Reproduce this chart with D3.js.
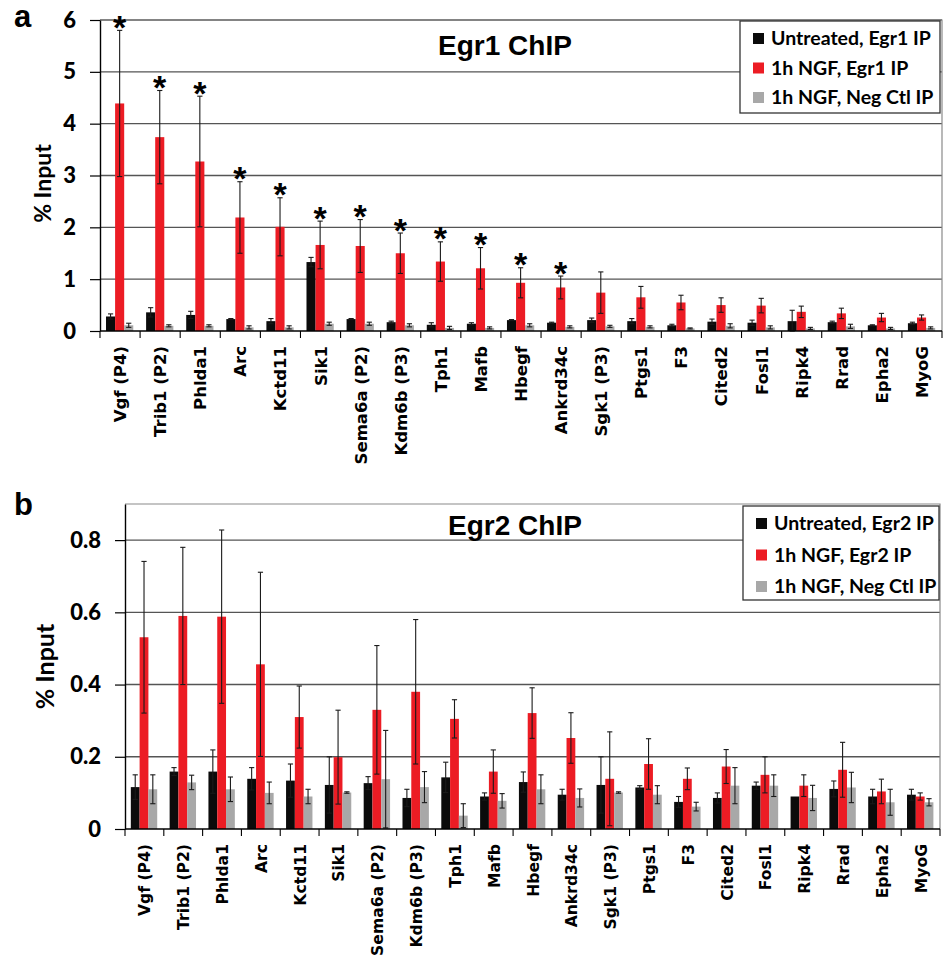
<!DOCTYPE html>
<html>
<head>
<meta charset="utf-8">
<script src="https://cdn.jsdelivr.net/npm/d3@7"></script>
<style>
  body { margin: 0; background: #fff; }
  svg { display: block; }
</style>
</head>
<body>
<svg id="chart" width="943" height="959"></svg>
<script>
const genes = ['Vgf (P4)', 'Trib1 (P2)', 'Phlda1', 'Arc', 'Kctd11', 'Sik1', 'Sema6a (P2)', 'Kdm6b (P3)',
  'Tph1', 'Mafb', 'Hbegf', 'Ankrd34c', 'Sgk1 (P3)', 'Ptgs1', 'F3', 'Cited2', 'Fosl1', 'Ripk4', 'Rrad', 'Epha2', 'MyoG'];

// panel a: Egr1 ChIP
const egr1Untreated    = [0.28, 0.36, 0.31, 0.23, 0.19, 1.33, 0.23, 0.17, 0.12, 0.14, 0.21, 0.16, 0.21, 0.19, 0.11, 0.18, 0.16, 0.19, 0.17, 0.11, 0.15];
const egr1UntreatedErr = [0.05, 0.09, 0.07, 0.01, 0.05, 0.09, 0.01, 0.02, 0.04, 0.02, 0.01, 0.01, 0.04, 0.05, 0.02, 0.05, 0.05, 0.21, 0.02, 0.01, 0.02];
const egr1Ngf          = [4.39, 3.74, 3.27, 2.19, 2.01, 1.66, 1.64, 1.50, 1.34, 1.21, 0.93, 0.84, 0.74, 0.65, 0.55, 0.50, 0.49, 0.37, 0.34, 0.26, 0.26];
const egr1NgfErr       = [1.41, 0.90, 1.26, 0.69, 0.56, 0.46, 0.51, 0.39, 0.38, 0.40, 0.29, 0.22, 0.40, 0.21, 0.14, 0.14, 0.14, 0.11, 0.10, 0.08, 0.05];
const egr1Neg          = [0.11, 0.10, 0.10, 0.07, 0.07, 0.14, 0.14, 0.11, 0.06, 0.06, 0.11, 0.08, 0.09, 0.08, 0.05, 0.10, 0.07, 0.05, 0.09, 0.05, 0.06];
const egr1NegErr       = [0.04, 0.02, 0.02, 0.03, 0.03, 0.03, 0.03, 0.03, 0.03, 0.02, 0.03, 0.02, 0.02, 0.02, 0.01, 0.04, 0.03, 0.02, 0.04, 0.02, 0.02];
const egr1Sig          = [1, 1, 1, 1, 1, 1, 1, 1, 1, 1, 1, 1, 0, 0, 0, 0, 0, 0, 0, 0, 0];
const egr1Legend = ['Untreated, Egr1 IP', '1h NGF, Egr1 IP', '1h NGF, Neg Ctl IP'];
const egr1Ticks = [0, 1, 2, 3, 4, 5, 6];

// panel b: Egr2 ChIP
const egr2Untreated    = [0.116, 0.159, 0.159, 0.139, 0.134, 0.122, 0.127, 0.086, 0.143, 0.090, 0.130, 0.095, 0.122, 0.115, 0.075, 0.086, 0.120, 0.090, 0.111, 0.090, 0.095];
const egr2UntreatedErr = [0.034, 0.011, 0.060, 0.031, 0.046, 0.078, 0.018, 0.024, 0.042, 0.010, 0.028, 0.015, 0.078, 0.005, 0.015, 0.014, 0.010, 0.000, 0.022, 0.020, 0.015];
const egr2Ngf          = [0.531, 0.590, 0.588, 0.456, 0.310, 0.199, 0.330, 0.380, 0.305, 0.159, 0.321, 0.252, 0.139, 0.180, 0.139, 0.173, 0.150, 0.120, 0.164, 0.104, 0.090];
const egr2NgfErr       = [0.210, 0.190, 0.240, 0.255, 0.086, 0.130, 0.178, 0.200, 0.053, 0.060, 0.070, 0.070, 0.130, 0.070, 0.030, 0.047, 0.050, 0.030, 0.076, 0.034, 0.010];
const egr2Neg          = [0.110, 0.129, 0.110, 0.100, 0.090, 0.101, 0.138, 0.116, 0.037, 0.078, 0.110, 0.086, 0.101, 0.095, 0.062, 0.120, 0.120, 0.086, 0.115, 0.074, 0.074];
const egr2NegErr       = [0.040, 0.020, 0.034, 0.030, 0.020, 0.002, 0.135, 0.043, 0.033, 0.020, 0.040, 0.025, 0.002, 0.025, 0.012, 0.050, 0.030, 0.035, 0.042, 0.036, 0.010];
const egr2Legend = ['Untreated, Egr2 IP', '1h NGF, Egr2 IP', '1h NGF, Neg Ctl IP'];
const egr2Ticks = [0, 0.2, 0.4, 0.6, 0.8];

const colors = ['#0b0b0b', '#ec1c24', '#a8a8a8'];
const svg = d3.select('#chart');

function drawPanel(p) {
  const g = svg.append('g');
  const x = d3.scaleBand().domain(genes).range([p.left, p.right]);
  const bw = x.bandwidth();
  const xs = d3.scaleBand().domain([0, 1, 2]).range([0.15 * bw, 0.83 * bw]);
  const y = d3.scaleLinear().domain([0, p.max]).range([p.bottom, p.top]);

  // gridlines
  g.selectAll('.grid').data(p.ticks.filter(t => t > 0)).join('line')
    .attr('x1', p.left).attr('x2', p.right)
    .attr('y1', d => y(d)).attr('y2', d => y(d))
    .attr('stroke', '#555').attr('stroke-width', 1.4);
  // plot border (top + right)
  g.append('path')
    .attr('d', `M${p.left},${y(p.max)}H${p.right}V${y(0)}`)
    .attr('fill', 'none').attr('stroke', '#8a8a8a').attr('stroke-width', 1.2);

  const series = [p.untreated, p.ngf, p.neg];
  const errs = [p.untreatedErr, p.ngfErr, p.negErr];
  const rows = [];
  genes.forEach((gene, i) => series.forEach((s, k) => rows.push({ gene, k, v: s[i], e: errs[k][i] })));

  g.selectAll('.bar').data(rows).join('rect')
    .attr('x', d => x(d.gene) + xs(d.k))
    .attr('width', xs.bandwidth())
    .attr('y', d => y(d.v))
    .attr('height', d => y(0) - y(d.v))
    .attr('fill', d => colors[d.k]);

  // error bars
  const eb = g.selectAll('.err').data(rows.filter(d => d.e > 0)).join('g')
    .attr('transform', d => `translate(${x(d.gene) + xs(d.k) + xs.bandwidth() / 2},0)`)
    .attr('stroke', '#1a1a1a').attr('stroke-width', 1.1);
  eb.append('line').attr('y1', d => y(d.v + d.e)).attr('y2', d => y(Math.max(0, d.v - d.e)));
  eb.append('line').attr('x1', -2.6).attr('x2', 2.6).attr('y1', d => y(d.v + d.e)).attr('y2', d => y(d.v + d.e));
  eb.append('line').attr('x1', -2.6).attr('x2', 2.6).attr('y1', d => y(Math.max(0, d.v - d.e))).attr('y2', d => y(Math.max(0, d.v - d.e)));

  // significance stars
  if (p.sig) {
    g.selectAll('.star').data(genes.filter((d, i) => p.sig[i])).join('text')
      .attr('x', d => x(d) + xs(1) + xs.bandwidth() / 2)
      .attr('y', d => { const i = genes.indexOf(d); return y(p.ngf[i] + p.ngfErr[i]) + 8.5; })
      .attr('text-anchor', 'middle')
      .attr('font-family', 'Liberation Sans, Arial, sans-serif').attr('font-weight', 'bold')
      .attr('font-size', 34).attr('fill', '#000')
      .text('*');
  }

  // y axis
  const ya = g.append('g').attr('transform', `translate(${p.left},0)`)
    .call(d3.axisLeft(y).tickValues(p.ticks).tickFormat(d3.format('')).tickSize(10).tickSizeOuter(0).tickPadding(14));
  ya.select('.domain').attr('stroke', '#000').attr('stroke-width', 1.4);
  ya.selectAll('.tick line').attr('stroke', '#000').attr('stroke-width', 1.2);
  ya.selectAll('.tick text').attr('font-family', 'Lato, sans-serif').attr('font-weight', '900')
    .attr('font-size', 22).attr('fill', '#000');

  // x axis: ticks between categories
  const xa = g.append('g');
  xa.append('line').attr('x1', p.left).attr('x2', p.right).attr('y1', y(0)).attr('y2', y(0))
    .attr('stroke', '#000').attr('stroke-width', 1.4);
  xa.selectAll('.xt').data(genes.concat([null])).join('line')
    .attr('x1', (d, i) => p.left + i * bw).attr('x2', (d, i) => p.left + i * bw)
    .attr('y1', y(0)).attr('y2', y(0) + 7)
    .attr('stroke', '#000').attr('stroke-width', 1.1);
  xa.selectAll('.xl').data(genes).join('text')
    .attr('transform', d => `translate(${x(d) + bw / 2 + 6},${y(0) + 15}) rotate(-90)`)
    .attr('text-anchor', 'end')
    .attr('font-family', 'DejaVu Sans, Verdana, sans-serif').attr('font-weight', 'bold')
    .attr('font-size', p.xlabelSize).attr('fill', '#000')
    .text(d => d);

  // y title
  g.append('text')
    .attr('transform', `translate(${p.ytitleX},${(y(0) + y(p.max)) / 2 + p.ytitleDy}) rotate(-90)`)
    .attr('text-anchor', 'middle')
    .attr('font-family', 'Lato, sans-serif').attr('font-weight', 'bold')
    .attr('font-size', p.ytitleSize).text('% Input');

  // panel letter + title
  g.append('text').attr('x', 14).attr('y', p.letterY)
    .attr('font-family', 'Liberation Sans, Arial, sans-serif').attr('font-weight', 'bold')
    .attr('font-size', 31).text(p.letter);
  g.append('text').attr('x', p.titleX).attr('y', p.titleY).attr('text-anchor', 'middle')
    .attr('font-family', 'Liberation Sans, Arial, sans-serif').attr('font-weight', 'bold')
    .attr('font-size', 28).text(p.title);

  // legend
  const lg = g.append('g');
  lg.append('rect').attr('x', p.legend.x).attr('y', p.legend.y).attr('width', p.legend.w).attr('height', p.legend.h)
    .attr('fill', '#fff').attr('stroke', '#333').attr('stroke-width', 1.3);
  const items = lg.selectAll('.li').data(p.legendLabels).join('g')
    .attr('transform', (d, i) => `translate(${p.legend.x + 13},${p.legend.y + 24 + i * p.legend.step})`);
  items.append('rect').attr('x', 0).attr('y', -12).attr('width', 11).attr('height', 11)
    .attr('fill', (d, i) => colors[i]);
  items.append('text').attr('x', 18).attr('y', 0)
    .attr('font-family', 'Lato, sans-serif').attr('font-weight', 'bold')
    .attr('font-size', 19.5).text(d => d);
}

drawPanel({
  left: 100, right: 942, top: 20, bottom: 331, max: 6, ticks: egr1Ticks,
  untreated: egr1Untreated, untreatedErr: egr1UntreatedErr, ngf: egr1Ngf, ngfErr: egr1NgfErr,
  neg: egr1Neg, negErr: egr1NegErr, sig: egr1Sig, xlabelSize: 16.5,
  ytitleX: 51, ytitleDy: 8, ytitleSize: 23,
  letter: 'a', letterY: 27, title: 'Egr1 ChIP', titleX: 505, titleY: 55,
  legend: { x: 740, y: 21, w: 200, h: 92, step: 29.5 }, legendLabels: egr1Legend
});

drawPanel({
  left: 125, right: 940, top: 504, bottom: 829, max: 0.9, ticks: egr2Ticks,
  untreated: egr2Untreated, untreatedErr: egr2UntreatedErr, ngf: egr2Ngf, ngfErr: egr2NgfErr,
  neg: egr2Neg, negErr: egr2NegErr, sig: null, xlabelSize: 15.6,
  ytitleX: 54, ytitleDy: 0, ytitleSize: 25,
  letter: 'b', letterY: 515, title: 'Egr2 ChIP', titleX: 515, titleY: 535,
  legend: { x: 743, y: 506, w: 196, h: 94, step: 31.5 }, legendLabels: egr2Legend
});
</script>
</body>
</html>
